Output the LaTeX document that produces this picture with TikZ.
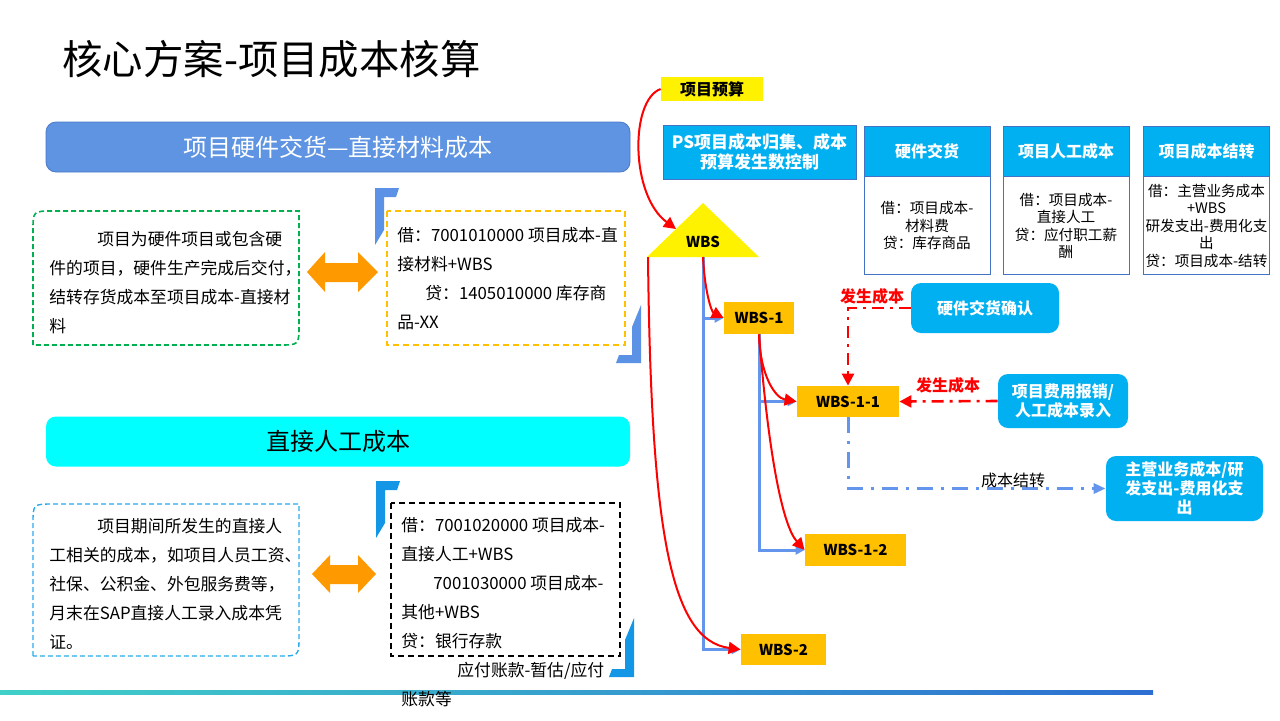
\documentclass[tikz,border=0pt]{standalone}
\usepackage{fontspec}
\setmainfont{Noto Sans CJK SC}
\usetikzlibrary{positioning,arrows.meta}

\definecolor{hdblue}{RGB}{95,148,226}
\definecolor{hdedge}{RGB}{72,122,200}
\definecolor{barcyan}{RGB}{0,255,255}
\definecolor{skyfill}{RGB}{0,176,240}
\definecolor{tabedge}{RGB}{68,114,196}
\definecolor{wbsorange}{RGB}{255,192,0}
\definecolor{arrorange}{RGB}{255,153,0}
\definecolor{treeblue}{RGB}{100,149,237}
\definecolor{dgreen}{RGB}{0,176,80}
\definecolor{dblue}{RGB}{40,170,235}
\definecolor{brkblue}{RGB}{91,146,229}
\definecolor{brkcyan}{RGB}{20,150,230}
\definecolor{lineteal}{RGB}{64,208,200}
\definecolor{lineblue}{RGB}{45,110,210}

\tikzset{slide/.style={x=0.5pt,y=-0.5pt}}
\tikzset{bar/.style={rounded corners=5pt,minimum width=292pt,minimum height=25pt,font=\fontsize{12}{14}\selectfont},
         memo/.style={anchor=west,inner sep=0pt,align=left,font=\fontsize{8.4}{14.5}\selectfont},
         notebox/.style={line width=0.8pt,dash pattern=on 2.5pt off 1.5pt},
         entrybox/.style={line width=1pt,dash pattern=on 3pt off 2pt},
         wbsbox/.style={fill=wbsorange,minimum height=16pt,inner sep=0pt,font=\fontsize{7.5}{9}\selectfont\bfseries},
         skybox/.style={fill=skyfill,text=white,rounded corners=5pt,align=center,inner sep=0pt,font=\fontsize{8}{9.5}\selectfont\bfseries},
         tabhead/.style={fill=skyfill,draw=tabedge,text=white,minimum width=63pt,minimum height=25pt,font=\fontsize{8}{9}\selectfont\bfseries},
         tabbody/.style={draw=tabedge,minimum width=63pt,minimum height=49pt,align=center,inner sep=1pt,font=\fontsize{7.3}{8.75}\selectfont}}
\tikzset{redarr/.style={red,line width=1pt,-{Triangle[length=6pt,width=6pt]}},
         treeline/.style={treeblue,line width=1.5pt,-{Triangle[length=4.5pt,width=4.5pt]}},
         costflow/.style={red,line width=1.3pt,dash pattern=on 6pt off 3pt on 1.5pt off 3pt,-{Triangle[length=6pt,width=6pt]}},
         settleflow/.style={treeblue,line width=1.5pt,dash pattern=on 8pt off 4pt on 1.5pt off 4pt,-{Triangle[length=6pt,width=5pt]}},
         flowlabel/.style={font=\fontsize{8}{9}\selectfont\bfseries}}

\begin{document}
\begin{tikzpicture}[slide]
    \useasboundingbox (0,0) rectangle (1280,720);
    \node[anchor=west,inner sep=0pt,font=\fontsize{20.2}{24}\selectfont] (title) at (62,59) {核心方案-项目成本核算};

    % left: hardware delivery
    \node[bar,fill=hdblue,draw=hdedge,text=white] (hwbar) at (338,147) {项目硬件交货—直接材料成本};
    \draw[notebox,dgreen] (33,345) -- (33,231) .. controls (33,211) .. (53,211) -- (299,211) -- (299,325) .. controls (299,345) .. (279,345) -- cycle;
    \node[memo] (hwnote) at (49,282.5) {\hspace*{24pt}项目为硬件项目或包含硬\\件的项目，硬件生产完成后交付，\\结转存货成本至项目成本-直接材\\料};
    \fill[arrorange] (307,272) -- (325,252) -- (325,263) -- (358,263) -- (358,252) -- (378,272) -- (358,292) -- (358,282) -- (325,282) -- (325,292) -- cycle;
    \draw[entrybox,wbsorange] (387,211) rectangle (625,345);
    \node[memo] (hwentry) at (397,278.5) {借：7001010000 项目成本-直\\接材料+WBS\\\hspace*{14pt}贷：1405010000 库存商\\品-XX};
    \fill[brkblue] (375,245) -- (375,188) -- (399,188) -- (396,197) -- (384,197) -- (384,230) -- cycle;
    \fill[brkblue] (641,305) -- (641,363) -- (616,363) -- (619,355) -- (632,355) -- (632,327) -- cycle;

    % left: direct labour
    \node[bar,fill=barcyan] (labbar) at (338,441.5) {直接人工成本};
    \draw[notebox,dblue,line width=0.7pt] (33,656) -- (33,524) .. controls (33,504) .. (53,504) -- (299,504) -- (299,636) .. controls (299,656) .. (279,656) -- cycle;
    \node[memo] (labnote) at (49,584.4) {\hspace*{24pt}项目期间所发生的直接人\\工相关的成本，如项目人员工资、\\社保、公积金、外包服务费等，\\月末在SAP直接人工录入成本凭\\证。};
    \fill[arrorange] (312,574) -- (330,555) -- (330,565) -- (358,565) -- (358,555) -- (376,574) -- (358,593) -- (358,584) -- (330,584) -- (330,593) -- cycle;
    \draw[entrybox,black] (391,503) rectangle (620,656);
    \fill[brkcyan] (376,538) -- (376,481) -- (400,481) -- (397,490) -- (385,490) -- (385,523) -- cycle;
    \fill[brkcyan] (634,618) -- (634,677) -- (609,677) -- (612,669) -- (625,669) -- (625,640) -- cycle;
    \shade[left color=lineteal,right color=lineblue] (0,690.5) rectangle (1153,694);
    \node[memo] (labentry) at (401,612.3) {借：7001020000 项目成本-\\直接人工+WBS\\\hspace*{16pt}7001030000 项目成本-\\其他+WBS\\贷：银行存款\\\hspace*{28pt}应付账款-暂估/应付\\账款等};

    % right: budget and WBS tree
    \node[fill=yellow,minimum width=51pt,minimum height=12pt,inner sep=0pt,font=\fontsize{8}{9}\selectfont\bfseries] (budget) at (712,89) {项目预算};
    \node[fill=skyfill,draw=tabedge,text=white,minimum width=96.5pt,minimum height=27pt,align=center,inner sep=0pt,font=\fontsize{8.5}{10}\selectfont\bfseries] (psbox) at (759.5,152) {PS项目成本归集、成本\\预算发生数控制};
    \foreach \i/\x/\ttl/\txt in {hw/927/硬件交货/{借：项目成本-\\材料费\\贷：库存商品},
                                 lab/1066/项目人工成本/{借：项目成本-\\直接人工\\贷：应付职工薪\\酬},
                                 close/1206.5/项目成本结转/{借：主营业务成本\\+WBS\\研发支出-费用化支\\出\\贷：项目成本-结转}}
    {
      \node[tabhead] (head\i) at (\x,151) {\ttl};
      \node[tabbody,below=0pt of head\i] (body\i) {\txt};
    }

    \fill[yellow] (647,257) -- (703,203) -- (759,257) -- cycle;
    \node[font=\fontsize{7.5}{9}\selectfont\bfseries] (wbs) at (703,242) {WBS};
    \coordinate (wbsfoot) at (703,257);
    \coordinate (wbsleft) at (648,257);
    \coordinate (wbsslope) at (676,229);
    \node[wbsbox,minimum width=35pt] (wbs1) at (759,318) {WBS-1};
    \node[wbsbox,minimum width=51pt,minimum height=15.5pt] (wbs11) at (848,401.5) {WBS-1-1};
    \node[wbsbox,minimum width=50.5pt] (wbs12) at (855.5,550) {WBS-1-2};
    \node[wbsbox,minimum width=42.5pt,minimum height=15.5pt] (wbs2) at (783.5,649.5) {WBS-2};

    \draw[treeline] (wbsfoot) |- (wbs2.west);
    \draw[treeline] (wbsfoot |- wbs1.west) -- (wbs1.west);
    \draw[treeline] (wbs1.south) |- (wbs12.west);
    \draw[treeline] (wbs1.south |- wbs11.west) -- (wbs11.west);

    \draw[redarr] (budget.west) .. controls (630,100) and (630,195) .. (wbsslope);
    \draw[redarr] (wbsfoot) .. controls (705,295) and (712,312) .. (wbs1.west);
    \draw[redarr] (wbsleft) .. controls (651,530) and (670,640) .. (wbs2.west);
    \draw[redarr] (wbs1.south) .. controls (760,375) and (775,398) .. (wbs11.west);
    \draw[redarr] (wbs1.south) .. controls (768,450) and (782,525) .. (wbs12.west);

    % postings into WBS-1-1
    \node[skybox,minimum width=74pt,minimum height=25pt] (hwconfirm) at (985,308) {硬件交货确认};
    \node[skybox,minimum width=65pt,minimum height=27pt] (costentry) at (1063,401) {项目费用报销/\\人工成本录入};
    \node[skybox,minimum width=78.5pt,minimum height=32.5pt] (settle) at (1184.5,488.5) {主营业务成本/研\\发支出-费用化支\\出};
    \draw[costflow] (hwconfirm.west) -| (wbs11.north);
    \draw[costflow] (costentry.west) -- (wbs11.east);
    \draw[settleflow] (wbs11.south) |- (settle.west);
    \node[flowlabel,red] (costlbl1) at (872,296) {发生成本};
    \node[flowlabel,red] (costlbl2) at (948,385) {发生成本};
    \node[font=\fontsize{8}{9}\selectfont] (settlelbl) at (1013,480) {成本结转};
\end{tikzpicture}
\end{document}
